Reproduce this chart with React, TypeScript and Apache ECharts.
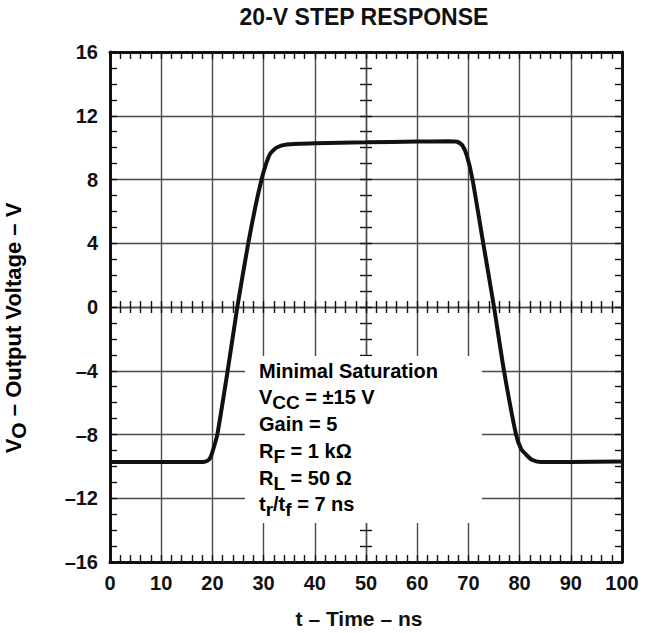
import React, { useEffect, useRef } from "react";
import * as echarts from "echarts";

// Step response trace (time in ns, output voltage in V)
const timeNs = [0, 10, 18.2, 19.0, 19.5, 20.0, 20.96, 22.98, 24.87, 27.0, 28.4, 29.6, 30.4, 31.25, 32.5, 34.5, 40, 50, 60, 66, 67.8, 68.8, 69.7, 70.8, 72.9, 75.0, 76.95, 79.3, 80.3, 81.4, 82.5, 84, 90, 100];
const voltageV = [-9.72, -9.72, -9.72, -9.65, -9.5, -9.1, -8, -4, 0, 4, 6.3, 8, 8.9, 9.6, 10.0, 10.2, 10.28, 10.33, 10.38, 10.4, 10.37, 10.15, 9.5, 8, 4, 0, -4, -8, -8.9, -9.3, -9.6, -9.72, -9.72, -9.7];

const xRange = [0, 100];
const xStep = 10;
const yRange = [-16, 16];
const yStep = 4;

const titleText = "20-V STEP RESPONSE";
const xAxisTitle = "t \u2013 Time \u2013 ns";
const yAxisTitle = "{m|V}{s|O}{m| \u2013 Output Voltage \u2013 V}";
const noteLines = [
  "{m|Minimal Saturation}",
  "{m|V}{s|CC}{m| = \u00b115 V}",
  "{m|Gain = 5}",
  "{m|R}{s|F}{m| = 1 k\u03a9}",
  "{m|R}{s|L}{m| = 50 \u03a9}",
  "{m|t}{s|r}{m|/t}{s|f}{m| = 7 ns}",
];

const FONT = '"Liberation Sans", Arial, Helvetica, sans-serif';

const fmt = (v: number) => (v < 0 ? "\u2013" + Math.abs(v) : String(v));

const rich = (size: number) => ({
  m: { fontFamily: FONT, fontWeight: "bold", fontSize: size, lineHeight: 22, color: "#111", verticalAlign: "top" },
  s: { fontFamily: FONT, fontWeight: "bold", fontSize: size - 1, lineHeight: 20, color: "#111", verticalAlign: "top", padding: [6, 0, 0, 0] },
});

export default function App() {
  const ref = useRef<HTMLDivElement>(null);
  useEffect(() => {
    document.body.style.margin = "0";
    const chart = echarts.init(ref.current!, null, { renderer: "svg" });

    const border = { show: true, onZero: false, lineStyle: { color: "#111", width: 3 } };
    const gridLine = { color: "#4a4a4a", width: 1.4 };
    const tickStyle = { color: "#111", width: 1.4 };

    const baseX = {
      type: "value",
      min: xRange[0],
      max: xRange[1],
      interval: xStep,
      splitLine: { show: false },
      axisLabel: { show: false },
    };
    const baseY = {
      type: "value",
      min: yRange[0],
      max: yRange[1],
      interval: yStep,
      splitLine: { show: false },
      axisLabel: { show: false },
    };
    const labelStyle = { show: true, color: "#111", fontFamily: FONT, fontSize: 20, fontWeight: "bold", margin: 12, formatter: fmt };

    const option: any = {
      animation: false,
      backgroundColor: "#fff",
      grid: { left: 110, top: 52, width: 512, height: 510, containLabel: false },
      xAxis: [
        {
          ...baseX,
          position: "bottom",
          axisLine: border,
          axisTick: { show: true, inside: true, length: 7, lineStyle: tickStyle },
          minorTick: { show: true, splitNumber: 5, length: 7, lineStyle: tickStyle },
          splitLine: { show: true, lineStyle: gridLine },
          axisLabel: { ...labelStyle, margin: 11 },
        },
        {
          ...baseX,
          position: "top",
          axisLine: border,
          axisTick: { show: true, inside: true, length: 7, lineStyle: tickStyle },
          minorTick: { show: true, splitNumber: 5, length: 7, lineStyle: tickStyle },
        },
        {
          ...baseX,
          position: "bottom",
          offset: -255,
          axisLine: { show: true, onZero: false, lineStyle: gridLine },
          axisTick: { show: true, inside: true, length: 6, lineStyle: tickStyle },
          minorTick: { show: true, splitNumber: 5, length: 6, lineStyle: tickStyle },
        },
        {
          ...baseX,
          position: "bottom",
          offset: -255,
          axisLine: { show: false },
          axisTick: { show: true, inside: false, length: 6, lineStyle: tickStyle },
          minorTick: { show: true, splitNumber: 5, length: 6, lineStyle: tickStyle },
        },
      ],
      yAxis: [
        {
          ...baseY,
          position: "left",
          axisLine: border,
          axisTick: { show: true, inside: true, length: 7, lineStyle: tickStyle },
          minorTick: { show: true, splitNumber: 4, length: 7, lineStyle: tickStyle },
          splitLine: { show: true, lineStyle: gridLine },
          axisLabel: labelStyle,
        },
        {
          ...baseY,
          position: "right",
          axisLine: border,
          axisTick: { show: true, inside: true, length: 7, lineStyle: tickStyle },
          minorTick: { show: true, splitNumber: 4, length: 7, lineStyle: tickStyle },
        },
        {
          ...baseY,
          position: "left",
          offset: -256,
          axisLine: { show: true, onZero: false, lineStyle: gridLine },
          axisTick: { show: true, inside: true, length: 6, lineStyle: tickStyle },
          minorTick: { show: true, splitNumber: 4, length: 6, lineStyle: tickStyle },
        },
        {
          ...baseY,
          position: "left",
          offset: -256,
          axisLine: { show: false },
          axisTick: { show: true, inside: false, length: 6, lineStyle: tickStyle },
          minorTick: { show: true, splitNumber: 4, length: 6, lineStyle: tickStyle },
        },
      ],
      series: [
        {
          type: "line",
          xAxisIndex: 0,
          yAxisIndex: 0,
          data: timeNs.map((t, i) => [t, voltageV[i]]),
          showSymbol: false,
          smooth: 0.2,
          lineStyle: { color: "#111", width: 4 },
          z: 5,
        },
      ],
      graphic: [
        { type: "rect", z: 2, shape: { x: 245, y: 356, width: 237, height: 167 }, style: { fill: "#fff" } },
        ...noteLines.map((line, i) => ({
          type: "text",
          z: 6,
          x: 259,
          y: 360.7 + i * 26.7,
          style: { text: line, rich: rich(20), align: "left", verticalAlign: "top" },
        })),
        {
          type: "text",
          z: 6,
          x: 364,
          y: 17,
          style: { text: titleText, fontFamily: FONT, fontWeight: "bold", fontSize: 23, fill: "#111", align: "center", verticalAlign: "middle" },
        },
        {
          type: "text",
          z: 6,
          x: 359,
          y: 618,
          style: { text: xAxisTitle, fontFamily: FONT, fontWeight: "bold", fontSize: 21, fill: "#111", align: "center", verticalAlign: "middle" },
        },
        {
          type: "text",
          z: 6,
          x: 13,
          y: 328,
          rotation: Math.PI / 2,
          style: { text: yAxisTitle, rich: rich(22), align: "center", verticalAlign: "middle" },
        },
      ],
    };

    chart.setOption(option);
    return () => chart.dispose();
  }, []);
  return <div ref={ref} style={{ width: 656, height: 633 }} />;
}
